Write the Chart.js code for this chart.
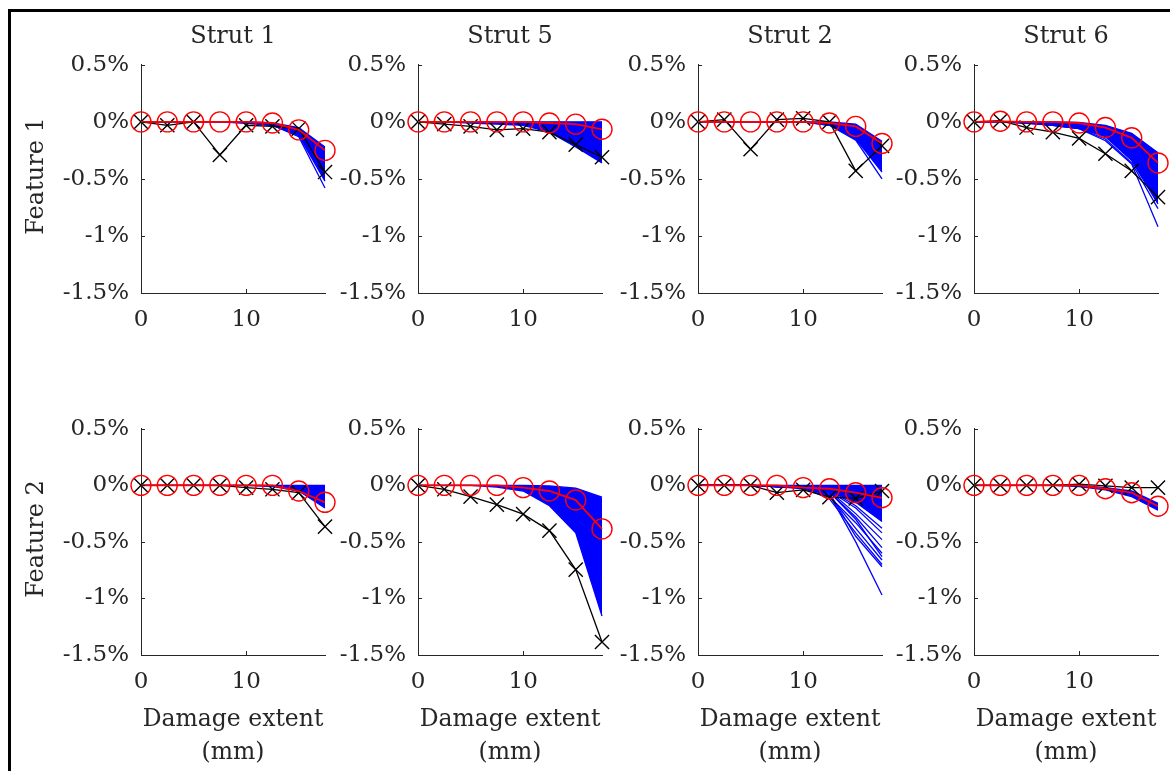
<!DOCTYPE html>
<html>
<head>
<meta charset="utf-8">
<script src="https://cdn.jsdelivr.net/npm/chart.js@4.4.1/dist/chart.umd.min.js"></script>
<style>
  html, body { margin: 0; padding: 0; background: #fff; }
  #fig { position: relative; width: 1170px; height: 771px; overflow: hidden; background: #fff;
         font-family: 'DejaVu Serif', serif; color: #262626; }
  #fig canvas { position: absolute; }
  .lbl { position: absolute; white-space: nowrap; transform: translate(-50%, -50%);
         font-size: 23.5px; line-height: 1; }
  .ttl { font-size: 24px; }
  .rot { transform: translate(-50%, -50%) rotate(-90deg); font-size: 24px; }
  .frame-l { position: absolute; left: 8px; top: 9px; width: 3px; height: 800px; background: #000; }
  .frame-t { position: absolute; left: 8px; top: 9px; width: 1200px; height: 3px; background: #000; }
</style>
</head>
<body>
<div id="fig">
  <div class="frame-l"></div>
  <div class="frame-t"></div>
</div>
<script>
// damage steps and labels
var damageMm = [0, 2.5, 5, 7.5, 10, 12.5, 15, 17.5];
var strutNames = ['Strut 1', 'Strut 5', 'Strut 2', 'Strut 6'];
var featureNames = ['Feature 1', 'Feature 2'];
var xTickValues = [0, 10];
var yTickValues = [0.5, 0, -0.5, -1, -1.5];
var xLabelLines = ['Damage extent', '(mm)'];

// Feature 1 (values in %)
var f1s1Red   = [0, 0, 0, 0, 0, -0.01, -0.07, -0.25];
var f1s1Black = [0, -0.03, 0, -0.29, -0.03, -0.04, -0.06, -0.44];
var f1s1Top   = [0, 0, 0, 0, 0, -0.01, -0.05, -0.22];
var f1s1Bot   = [0, 0, 0, 0, -0.01, -0.03, -0.12, -0.52];
var f1s1Extra = [[0, 0, 0, 0, -0.01, -0.03, -0.13, -0.58]];

var f1s5Red   = [0, 0, 0, 0, 0, -0.01, -0.02, -0.065];
var f1s5Black = [0, -0.02, -0.04, -0.07, -0.06, -0.09, -0.2, -0.31];
var f1s5Top   = [0, 0, 0, 0, 0, 0, 0, 0];
var f1s5Bot   = [0, 0, -0.01, -0.02, -0.03, -0.09, -0.22, -0.36];
var f1s5Extra = [];

var f1s2Red   = [0, 0, 0, 0, 0, -0.01, -0.04, -0.19];
var f1s2Black = [0, 0.02, -0.24, 0.02, 0.03, 0, -0.43, -0.21];
var f1s2Top   = [0, 0, 0, 0, 0, 0, -0.02, -0.17];
var f1s2Bot   = [0, 0, 0, 0, 0, -0.03, -0.15, -0.44];
var f1s2Extra = [[0, 0, 0, 0, 0, -0.03, -0.16, -0.5]];

var f1s6Red   = [0, 0.005, 0, 0, -0.01, -0.05, -0.14, -0.36];
var f1s6Black = [0, 0.01, -0.05, -0.09, -0.145, -0.28, -0.43, -0.66];
var f1s6Top   = [0, 0, 0, 0, -0.005, -0.03, -0.1, -0.27];
var f1s6Bot   = [0, 0, -0.01, -0.03, -0.06, -0.13, -0.34, -0.72];
var f1s6Extra = [[0, 0, -0.01, -0.03, -0.06, -0.165, -0.37, -0.92],
                 [0, 0, -0.01, -0.03, -0.06, -0.15, -0.36, -0.76]];

// Feature 2
var f2s1Red   = [0, 0, 0, 0, 0, 0, -0.05, -0.15];
var f2s1Black = [0, 0, 0, 0, -0.02, -0.035, -0.065, -0.365];
var f2s1Top   = [0, 0, 0, 0, 0, 0, 0, 0];
var f2s1Bot   = [0, 0, 0, 0, 0, -0.01, -0.05, -0.2];
var f2s1Extra = [];

var f2s5Red   = [0, 0, 0, 0, -0.02, -0.05, -0.13, -0.385];
var f2s5Black = [0, -0.035, -0.1, -0.17, -0.255, -0.4, -0.745, -1.385];
var f2s5Top   = [0, 0, 0, 0, 0, -0.005, -0.025, -0.105];
var f2s5Bot   = [0, 0, 0, -0.015, -0.05, -0.18, -0.42, -1.155];
var f2s5Extra = [];

var f2s2Red   = [0, 0, 0, 0, -0.02, -0.03, -0.065, -0.11];
var f2s2Black = [0, 0, 0, -0.065, -0.04, -0.105, -0.115, -0.05];
var f2s2Top   = [0, 0, 0, 0, 0, 0, 0, 0];
var f2s2Bot   = [0, 0, 0, -0.005, -0.02, -0.05, -0.15, -0.32];
var f2s2Extra = [[0, 0, 0, -0.01, -0.02, -0.08, -0.5, -0.97],
                 [0, 0, 0, -0.01, -0.02, -0.07, -0.45, -0.72],
                 [0, 0, 0, -0.01, -0.02, -0.12, -0.42, -0.7],
                 [0, 0, 0, -0.01, -0.02, -0.09, -0.38, -0.66],
                 [0, 0, 0, -0.01, -0.03, -0.1, -0.33, -0.6],
                 [0, 0, 0, -0.01, -0.02, -0.06, -0.3, -0.63],
                 [0, 0, 0, -0.01, -0.02, -0.06, -0.28, -0.55],
                 [0, 0, 0, -0.01, -0.02, -0.05, -0.25, -0.48],
                 [0, 0, 0, -0.01, -0.02, -0.05, -0.2, -0.42],
                 [0, 0, 0, -0.01, -0.02, -0.04, -0.18, -0.38]];

var f2s6Red   = [0, 0, 0, 0, 0, -0.03, -0.065, -0.185];
var f2s6Black = [0, 0, 0, 0, 0.01, -0.005, -0.02, -0.02];
var f2s6Top   = [0, 0, 0, 0, 0, -0.02, -0.05, -0.16];
var f2s6Bot   = [0, 0, 0, 0, -0.01, -0.04, -0.1, -0.22];
var f2s6Extra = [];

// row-major panel table
var panels = [
    [f1s1Red, f1s1Black, f1s1Top, f1s1Bot, f1s1Extra],
    [f1s5Red, f1s5Black, f1s5Top, f1s5Bot, f1s5Extra],
    [f1s2Red, f1s2Black, f1s2Top, f1s2Bot, f1s2Extra],
    [f1s6Red, f1s6Black, f1s6Top, f1s6Bot, f1s6Extra],
    [f2s1Red, f2s1Black, f2s1Top, f2s1Bot, f2s1Extra],
    [f2s5Red, f2s5Black, f2s5Top, f2s5Bot, f2s5Extra],
    [f2s2Red, f2s2Black, f2s2Top, f2s2Bot, f2s2Extra],
    [f2s6Red, f2s6Black, f2s6Top, f2s6Bot, f2s6Extra]
];

// layout of plot areas (px)
var colLeft = [141, 418, 698, 974];
var rowTop = [59, 423];
var plotW = 184;
var plotH = [234, 232];
var padL = 95, padT = 20, padR = 20, padB = 50;

var axisColor = '#262626';
var tickFont = { family: 'DejaVu Serif', size: 23 };

function pts(vals) {
    return damageMm.map(function (x, i) { return { x: x, y: vals[i] }; });
}

// MATLAB-style inward tick marks
var innerTicks = {
    id: 'innerTicks',
    afterDraw: function (chart) {
        var ctx = chart.ctx, a = chart.chartArea;
        var xs = chart.scales.x, ys = chart.scales.y;
        ctx.save();
        ctx.strokeStyle = axisColor;
        ctx.lineWidth = 1;
        ctx.beginPath();
        ys.ticks.forEach(function (t) {
            var py = Math.round(ys.getPixelForValue(t.value)) + 0.5;
            ctx.moveTo(a.left, py);
            ctx.lineTo(a.left + 4, py);
        });
        xs.ticks.forEach(function (t) {
            var px = Math.round(xs.getPixelForValue(t.value)) + 0.5;
            ctx.moveTo(px, a.bottom);
            ctx.lineTo(px, a.bottom - 4);
        });
        ctx.stroke();
        ctx.restore();
    }
};

function addLabel(text, x, y, cls) {
    var d = document.createElement('div');
    d.className = 'lbl' + (cls ? ' ' + cls : '');
    d.textContent = text;
    d.style.left = x + 'px';
    d.style.top = y + 'px';
    document.getElementById('fig').appendChild(d);
}

function makePanel(r, c) {
    var p = panels[r * 4 + c];
    var fig = document.getElementById('fig');
    var cv = document.createElement('canvas');
    cv.width = padL + plotW + padR;
    cv.height = padT + plotH[r] + padB;
    cv.style.left = (colLeft[c] - padL) + 'px';
    cv.style.top = (rowTop[r] - padT) + 'px';
    fig.appendChild(cv);

    var ds = [
        { data: pts(p[0]), borderColor: '#ff0000', borderWidth: 1.8, pointStyle: 'circle',
          pointRadius: 10, pointBorderColor: '#ff0000', pointBackgroundColor: 'rgba(0,0,0,0)',
          pointBorderWidth: 1.4, order: 0, clip: false },
        { data: pts(p[1]), borderColor: '#000000', borderWidth: 1.3, pointStyle: 'crossRot',
          pointRadius: 10, pointBorderColor: '#000000', pointBorderWidth: 1.4, order: 1, clip: false },
        { data: pts(p[2]), borderColor: '#0000ff', borderWidth: 1.3, pointRadius: 0, order: 3, clip: false },
        { data: pts(p[3]), borderColor: '#0000ff', borderWidth: 1.3, pointRadius: 0, order: 3, clip: false,
          fill: 2, backgroundColor: '#0000ff' }
    ];
    p[4].forEach(function (line) {
        ds.push({ data: pts(line), borderColor: '#0000ff', borderWidth: 1.3, pointRadius: 0, order: 2, clip: false });
    });

    new Chart(cv, {
        type: 'line',
        data: { datasets: ds },
        options: {
            responsive: false,
            animation: false,
            devicePixelRatio: 1,
            layout: { padding: { left: 0, top: padT, right: padR, bottom: 0 } },
            plugins: { legend: { display: false }, tooltip: { enabled: false } },
            elements: { line: { tension: 0 } },
            scales: {
                x: {
                    type: 'linear', min: 0, max: 17.5,
                    afterBuildTicks: function (s) { s.ticks = xTickValues.map(function (v) { return { value: v }; }); },
                    afterFit: function (s) { s.height = padB; },
                    grid: { display: true, drawOnChartArea: false, drawTicks: false },
                    border: { display: true, color: axisColor, width: 1 },
                    ticks: { padding: 13, color: axisColor, font: tickFont, maxRotation: 0,
                             callback: function (v) { return String(v); } }
                },
                y: {
                    type: 'linear', min: -1.5, max: 0.5,
                    afterBuildTicks: function (s) { s.ticks = yTickValues.map(function (v) { return { value: v }; }); },
                    afterFit: function (s) { s.width = padL; },
                    grid: { display: true, drawOnChartArea: false, drawTicks: false },
                    border: { display: true, color: axisColor, width: 1 },
                    ticks: { padding: 12, color: axisColor, font: tickFont,
                             callback: function (v) { return v + '%'; } }
                }
            }
        },
        plugins: [innerTicks]
    });
}

for (var r = 0; r < 2; r++) {
    for (var c = 0; c < 4; c++) makePanel(r, c);
}

// titles and axis labels
strutNames.forEach(function (name, c) {
    addLabel(name, colLeft[c] + plotW / 2, 35, 'ttl');
    addLabel(xLabelLines[0], colLeft[c] + plotW / 2, 719);
    addLabel(xLabelLines[1], colLeft[c] + plotW / 2, 752);
});
featureNames.forEach(function (name, r) {
    addLabel(name, 35, rowTop[r] + plotH[r] / 2, 'rot');
});
</script>
</body>
</html>
